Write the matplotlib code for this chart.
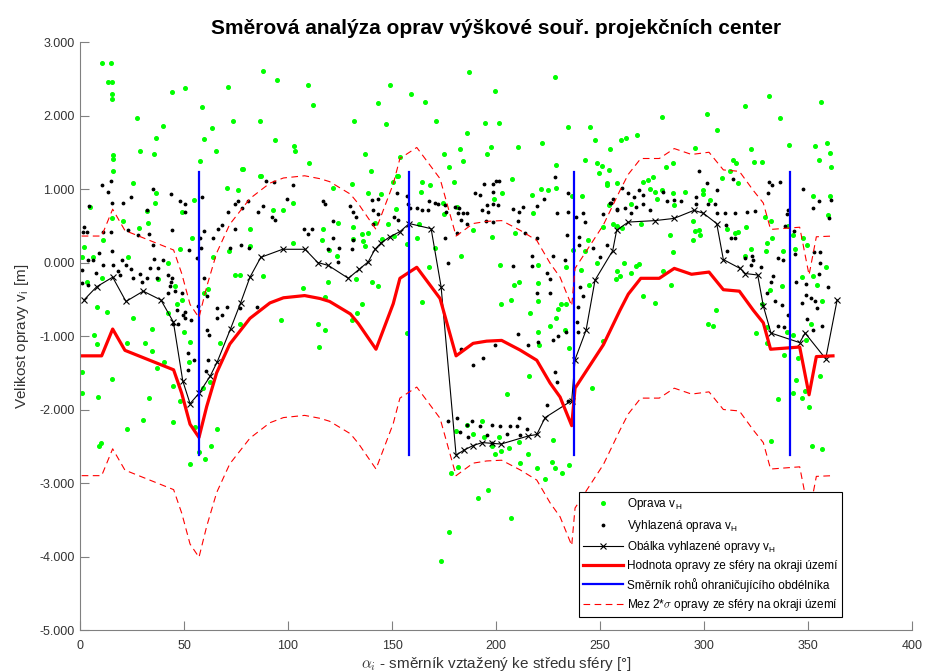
import numpy as np
import matplotlib
matplotlib.use('Agg')
import matplotlib.pyplot as plt

plt.rcParams['font.family'] = ['Liberation Sans', 'DejaVu Sans']
plt.rcParams['mathtext.fontset'] = 'cm'

# Oprava v_H (alpha [deg], v [m])
oprava = [
    (10.7, 2.71), (15.1, 2.72), (13.5, 2.46), (15.5, 2.46), (15.4, 2.29), (15.4, 2.22), (27.2, 1.97), (44.1, 2.32),
    (50.5, 2.37), (39.7, 1.86), (36.5, 1.70), (28.8, 1.52), (35.7, 1.48), (15.7, 1.46), (15.9, 1.41), (15.7, 1.24),
    (58.8, 2.11), (63.5, 1.83), (59.5, 1.68), (65.2, 1.52), (57.7, 1.38), (71.2, 2.39), (73.6, 1.92), (88.1, 2.60),
    (94.7, 2.48), (86.4, 1.93), (93.9, 1.66), (102.9, 1.58), (103.2, 1.52), (109.5, 2.41), (112.0, 2.14), (109.9, 1.36),
    (78.4, 1.27), (86.7, 1.18), (131.6, 1.92), (137.0, 1.48), (140.1, 1.24), (149.2, 2.42), (143.3, 2.17), (147.1, 1.88),
    (159.1, 2.29), (166.0, 2.18), (171.3, 1.93), (153.8, 1.43), (152.9, 1.18), (175.0, 1.48), (177.6, 1.30), (182.7, 1.54),
    (184.1, 1.38), (186.1, 1.76), (186.9, 2.59), (194.6, 1.90), (195.8, 1.47), (197.8, 1.57), (199.7, 2.34), (201.3, 1.90),
    (228.4, 2.52), (210.4, 1.57), (222.3, 1.62), (234.6, 1.84), (245.0, 1.85), (247.8, 1.67), (242.6, 1.40), (248.6, 1.36),
    (251.0, 1.31), (249.7, 1.22), (254.3, 1.26), (254.6, 1.54), (260.1, 1.67), (262.3, 1.69), (267.8, 1.73), (280.0, 1.98),
    (275.3, 1.17), (281.7, 1.30), (284.9, 1.35), (295.7, 1.56), (301.6, 2.02), (306.1, 1.80), (314.1, 1.40), (315.2, 1.35),
    (312.5, 1.24), (308.5, 1.15), (319.6, 2.13), (331.3, 2.27), (336.7, 1.96), (322.4, 1.55), (324.0, 1.37), (328.0, 1.37),
    (340.9, 1.60), (353.4, 1.58), (359.1, 1.63), (356.4, 2.18), (360.7, 1.49), (355.4, 1.39), (360.9, 1.30), (228.8, 1.33),
    (207.5, 1.14),
    (22.4, -2.27), (30.1, -2.14), (44.9, -2.17), (9.9, -2.46), (9.3, -2.49), (55.3, -2.24), (65.7, -2.26), (62.8, -2.50),
    (57.4, -2.58), (59.9, -2.68), (52.9, -2.74), (180.6, -2.29), (186.2, -2.21), (189.1, -2.33), (193.3, -2.16),
    (194.2, -2.38), (201.3, -2.37), (197.9, -2.50), (202.4, -2.57), (199.5, -2.61), (206.1, -2.52), (211.2, -2.44),
    (215.5, -2.60), (211.5, -2.73), (219.6, -2.79), (223.4, -2.94), (226.8, -2.71), (228.4, -2.80), (231.6, -2.87),
    (235.1, -2.75), (181.6, -2.78), (178.5, -2.87), (196.3, -3.10), (191.2, -3.21), (207.2, -3.47), (177.2, -3.67),
    (173.6, -4.06),
    (4.8, 0.76), (15.2, 0.60), (25.6, 1.08), (36.5, 0.94), (36.1, 0.81), (32.1, 0.70), (32.5, 0.54), (28.4, 0.47),
    (20.5, 0.56), (11.2, 0.30), (2.1, 0.21), (0.8, 0.08), (22.9, 0.07), (6.1, 0.08), (3.2, -0.27), (10.4, -0.21),
    (8.0, -0.61), (13.1, -0.68), (25.3, -0.76), (37.7, -0.22), (42.5, -0.01), (45.7, -0.32), (42.3, -0.69), (34.5, -0.90),
    (50.0, -0.94), (48.9, -0.51), (46.7, -0.56), (48.1, 0.19), (53.7, 0.34), (55.0, 0.85), (49.2, 0.69), (1.1, -1.49),
    (0.8, -1.78), (6.9, -0.99), (8.0, -1.11), (15.2, -1.59), (22.4, -1.10), (31.3, -1.09), (34.5, -1.20), (36.9, -1.44),
    (40.4, -1.36), (44.5, -1.68), (33.3, -1.85), (8.5, -1.83), (48.1, -1.89), (52.9, -1.08), (52.4, -1.35), (59.3, -1.71),
    (62.5, -1.62), (59.8, -0.42), (61.4, -0.36), (64.1, 0.08), (70.5, 1.01), (76.0, 0.98), (78.0, 1.27), (71.6, 0.15),
    (81.7, 0.22), (81.7, 0.46), (74.5, -0.17), (76.9, -0.17), (88.1, -0.19), (76.9, -0.83), (67.3, -1.10), (87.0, 1.18),
    (92.9, 0.71), (97.4, 0.71), (102.6, 0.26), (102.6, 0.81), (96.6, -0.78), (107.0, -0.35), (114.6, -0.83), (115.0, -1.15),
    (121.8, 1.02), (130.6, 1.07), (138.3, 0.94), (144.7, 0.93), (152.6, 1.18), (150.3, 1.09), (168.3, 1.05), (163.8, 0.96),
    (164.2, 1.09), (180.0, 1.09), (181.1, 0.76), (174.7, 0.81), (175.1, 0.66), (163.1, 0.52), (152.1, 0.73), (148.2, 0.52),
    (141.9, 0.54), (138.3, 0.40), (131.4, 0.48), (131.4, 0.32), (135.4, 0.39), (124.2, 0.54), (117.0, 0.45), (116.2, 0.30),
    (136.2, 0.29), (137.0, 0.22), (145.0, 0.32), (151.0, 0.36), (161.9, 0.34), (157.4, 0.25), (119.9, 0.17), (123.7, 0.09),
    (119.4, -0.27), (132.6, -0.23), (140.6, -0.27), (143.3, -0.32), (135.4, -0.56), (117.8, -0.92), (130.6, -0.78),
    (133.0, -0.69), (117.8, -0.47), (168.0, -0.06), (170.7, 0.20), (164.6, -0.54), (157.0, -0.96), (183.0, 0.09),
    (189.1, 0.44), (197.9, 0.35), (202.7, 0.95), (199.2, 0.86), (201.9, -0.03), (208.8, -0.31), (211.2, -0.27),
    (207.0, -0.51), (202.2, -0.56), (216.2, -0.69), (217.3, 0.92), (221.8, 1.00), (225.0, 0.98), (229.0, 1.02),
    (209.1, 0.40), (217.9, 0.68), (220.3, -0.04), (220.3, -0.28), (220.3, -0.52), (216.0, -1.54), (205.1, -1.79),
    (220.3, -0.94), (220.8, -1.12), (225.9, -0.87), (228.8, -0.76), (230.0, -0.63), (231.1, -0.56), (233.7, -0.56),
    (233.2, -0.92), (235.3, -1.16), (233.5, -0.06), (237.1, 0.17), (236.7, 0.90), (241.2, 0.90), (253.2, 1.08),
    (258.0, 1.08), (254.5, 0.78), (256.4, 0.53), (251.6, 0.48), (244.4, 0.31), (242.8, 0.15), (240.9, -0.10),
    (244.9, -0.31), (248.4, 0.00), (258.0, -0.12), (251.6, -1.07), (246.0, -1.71), (227.6, -2.41),
    (253.5, 1.05), (270.8, 1.10), (273.2, 1.12), (276.4, 0.96), (274.0, 1.00), (279.6, 0.98), (285.3, 0.94), (290.9, 0.96),
    (299.7, 0.99), (299.7, 0.93), (302.9, 0.85), (277.6, 0.86), (285.6, 0.78), (264.9, 0.80), (258.0, 0.49), (260.4, 0.47),
    (269.7, 0.52), (283.7, 0.37), (295.7, 0.43), (297.8, 0.44), (298.1, 0.37), (294.5, 0.31), (294.9, 0.57), (285.3, 0.14),
    (310.9, 0.46), (314.9, 0.40), (316.5, 0.42), (320.2, 0.48), (316.1, 1.08), (329.3, 0.62), (332.2, 0.57), (332.5, 0.33),
    (330.1, 0.27), (322.8, 0.18), (319.6, 0.09), (329.8, 0.15), (337.8, 0.16), (343.8, 0.18), (343.0, 0.37), (340.2, 0.50),
    (347.4, 0.33), (349.4, 0.24), (352.2, 0.91), (360.6, 0.91), (359.8, 0.65), (358.7, -0.06), (347.0, -0.20),
    (352.2, -0.19), (354.5, -0.31), (356.6, -0.52), (337.3, -0.32), (331.7, -0.38), (327.8, -0.57), (330.5, -0.88),
    (324.9, -0.96), (339.7, -0.94), (343.0, -0.98), (338.5, -1.26), (345.3, -1.30), (351.6, -0.83), (349.2, -1.06),
    (330.1, -1.09), (344.2, -1.60), (343.0, -1.78), (347.0, -1.85), (348.6, -1.75), (350.5, -1.97), (355.8, -1.55),
    (335.4, -1.86), (305.7, -0.65), (302.1, -0.83), (304.2, -0.87), (284.2, -0.31), (270.5, -0.45), (276.4, -0.55),
    (267.3, -0.05), (268.9, -0.02), (264.7, -0.14), (259.6, -0.18), (257.7, -0.22), (261.7, 0.00), (280.4, -0.12),
    (332.2, -2.43), (351.7, -2.50), (356.5, -2.54),
]

# Vyhlazena oprava v_H
vyhlazena = [
    (4.5, 0.77), (10.4, 1.06), (14.9, 1.11), (13.3, 0.96), (15.2, 0.81), (20.5, 0.81), (24.5, 0.89), (32.1, 0.72),
    (35.3, 1.00), (43.6, 0.93), (48.1, 0.84), (50.5, 0.79), (50.5, 0.69), (1.9, 0.48), (1.3, 0.42), (3.2, 0.41),
    (11.2, 0.41), (14.7, 0.42), (23.2, 0.44), (28.0, 0.37), (33.3, 0.39), (35.3, 0.24), (44.1, 0.44), (52.6, 0.17),
    (4.0, 0.04), (0.8, -0.10), (0.8, -0.28), (4.0, -0.30), (6.3, 0.04), (9.3, 0.13), (7.7, -0.14), (11.2, -0.03),
    (15.2, 0.15), (15.7, -0.04), (18.4, -0.11), (20.0, 0.04), (22.1, -0.03), (24.5, -0.09), (25.3, -0.21), (28.8, -0.16),
    (29.6, -0.26), (19.2, -0.17), (33.7, -0.08), (32.1, -0.21), (36.9, -0.21), (37.7, -0.08), (40.1, 0.04), (35.6, 0.05),
    (42.5, -0.17), (44.1, -0.21), (43.8, -0.26), (43.3, -0.32), (45.7, -0.39), (48.9, -0.41), (42.5, -0.41), (46.5, -0.64),
    (50.5, -0.68), (49.4, -0.72), (50.5, -0.76), (53.2, -0.78), (47.3, -0.84), (44.9, -0.83), (56.9, -0.59), (52.1, -1.23),
    (55.0, -1.33), (52.1, -1.46), (60.9, -0.92), (62.2, -0.98), (61.7, -1.33), (60.6, -1.48), (58.5, 0.89), (59.8, 0.43),
    (57.7, 0.33), (58.0, 0.20), (59.6, -0.21), (61.2, -0.46), (65.7, -0.62), (65.7, -0.75), (68.1, -0.72), (64.1, 0.34),
    (66.3, 0.46), (68.3, 0.51), (71.0, 0.69), (74.5, 0.80), (76.0, 0.83), (78.0, 0.74), (80.6, 0.84), (81.4, 0.20),
    (85.7, 0.69), (88.1, 0.77), (89.4, 1.11), (93.4, 1.09), (92.1, 0.62), (93.8, 0.58), (99.4, 0.87), (102.6, 1.06),
    (107.8, 0.45), (111.7, 0.45), (109.8, 0.39), (72.1, 0.20), (77.2, 0.24), (74.5, 0.46), (70.8, -0.61), (76.9, -0.62),
    (84.9, -0.60), (56.1, 0.06),
    (117.0, 0.83), (117.8, 0.80), (121.5, 0.57), (121.5, 0.33), (119.4, 0.19), (124.7, 0.20), (124.2, 0.01), (129.8, 0.77),
    (131.1, 0.69), (132.6, 0.62), (131.4, 0.31), (130.6, 0.18), (140.2, 0.85), (143.3, 0.86), (140.8, 0.72), (143.3, 0.66),
    (140.8, 0.53), (152.2, 0.94), (151.0, 0.62), (153.0, 0.58), (157.4, 0.90), (157.9, 0.80), (158.7, 0.74), (161.9, 0.74),
    (164.3, 0.71), (167.5, 0.72), (168.0, 0.83), (170.8, 0.81), (172.3, 0.80), (175.5, 0.78), (175.9, 0.69), (180.2, 0.76),
    (182.3, 0.74), (181.8, 0.67), (183.9, 0.67), (185.9, 0.67), (183.4, 0.58), (185.9, 0.53), (181.1, 0.40), (177.1, 0.00),
    (175.5, 0.34), (189.9, 0.94), (192.3, 0.92), (194.4, 1.07), (198.4, 1.07), (199.9, 1.11), (201.6, 1.11), (198.4, 0.96),
    (198.7, 0.80), (195.5, 0.78), (196.3, 0.69), (193.1, 0.71), (195.0, 0.56), (198.7, 0.55), (201.1, 0.78), (208.4, 0.73),
    (211.2, 0.69), (213.1, 0.75), (219.6, 0.77), (223.1, 0.86), (228.4, 1.16), (229.2, 0.68), (234.7, 0.94), (234.7, 0.69),
    (238.4, 0.62), (242.0, 0.67), (242.8, 0.55), (251.6, 0.66), (255.3, 0.81), (258.0, 0.73), (210.7, 0.56), (213.9, 0.40),
    (219.6, 0.33), (234.0, 0.38), (240.0, 0.35), (240.0, 0.24), (246.7, 0.20), (253.2, 0.24), (249.9, 0.08), (217.5, 0.09),
    (227.5, 0.09), (233.1, 0.04), (217.1, -0.05), (224.3, -0.14), (225.9, -0.22), (225.9, -0.42), (219.6, -0.42),
    (240.4, -0.33), (242.0, -0.46), (239.6, -0.60), (238.8, -0.81), (239.6, -0.94), (233.7, -0.94), (229.9, -1.00),
    (227.5, -1.06), (220.3, -1.08), (215.5, -1.12), (210.7, -0.97), (208.4, -0.05), (193.9, -1.30), (188.8, -1.39),
    (199.5, -1.12), (183.4, -1.18), (228.4, -1.49), (229.2, -1.63), (224.3, -1.94), (234.7, -1.89), (211.2, -2.11),
    (214.7, -2.26), (210.2, -2.22), (206.7, -2.23), (201.9, -2.23), (197.9, -2.21), (192.3, -2.22), (188.3, -2.16),
    (185.9, -2.21), (181.1, -2.12), (177.1, -2.16), (195.5, -2.35), (205.1, -2.33), (211.5, -2.35), (182.7, -2.30),
    (186.7, -2.37), (198.2, -2.45),
    (297.8, 1.24), (301.6, 1.08), (306.1, 0.99), (260.4, 1.02), (263.6, 0.94), (268.7, 0.98), (270.8, 0.92), (266.3, 0.89),
    (256.4, 0.87), (254.8, 0.81), (258.0, 0.71), (262.0, 0.74), (264.7, 0.67), (267.3, 0.76), (270.5, 0.80), (274.0, 0.72),
    (280.4, 0.96), (282.0, 0.83), (285.6, 0.85), (288.8, 0.83), (296.3, 0.89), (296.0, 0.79), (302.1, 0.80), (305.3, 0.80),
    (306.1, 0.68), (310.1, 0.68), (314.9, 0.68), (320.5, 0.69), (324.5, 0.70), (331.4, 1.10), (332.5, 1.05), (336.5, 1.09),
    (330.6, 0.94), (340.2, 0.72), (339.7, 0.66), (347.4, 1.00), (352.2, 0.74), (355.1, 0.84), (361.1, 0.85), (360.3, 0.60),
    (313.2, 0.33), (314.9, 0.33), (310.6, 0.51), (310.9, 0.15), (323.0, 0.09), (323.7, 0.04), (322.8, -0.03), (327.6, -0.06),
    (333.3, -0.19), (335.4, 0.06), (337.8, 0.03), (338.9, 0.50), (343.3, 0.43), (343.8, 0.12), (344.2, -0.27),
    (349.2, -0.29), (349.2, -0.44), (351.2, -0.48), (353.2, -0.53), (352.9, 0.14), (355.6, 0.14), (355.6, -0.01),
    (355.3, -0.15), (359.8, -0.33), (347.0, -0.55), (349.7, -0.77), (352.2, -0.92), (356.6, -0.87), (354.2, -0.62),
    (340.6, -0.71), (335.7, -0.87), (338.5, -0.88), (330.1, -0.42), (334.1, -0.53), (337.3, -0.58), (319.6, 0.06),
    (332.0, -0.27), (314.0, 1.13),
]

# Obalka vyhlazene opravy v_H
obalka_alpha = [1.9, 8, 15.7, 22.1, 30.4, 38.9, 44.9, 49.4, 52.9, 57.2, 62.5, 66, 72.4, 77.2, 81.7,
                86.9, 97.4, 108.2, 114.3, 119.4, 129, 134.3, 138.6, 141.8, 144.9, 149, 153.8, 158.3, 168.8, 173.6,
                180.8, 184.8, 189, 193.4, 197.9, 202.4, 215.5, 219.6, 223.6, 236.4, 238, 243.3, 247.6, 256.1, 258,
                263.6, 276.4, 285.6, 295.2, 299.7, 306.1, 309.3, 317.3, 319.9, 325.8, 328.5, 332.2, 346, 348.6,
                358.5, 364]
obalka_v = [-0.51, -0.33, -0.20, -0.53, -0.39, -0.51, -0.81, -1.61, -1.92, -1.78, -1.55, -1.35, -0.90, -0.55, -0.20,
            0.07, 0.18, 0.18, 0.0, -0.04, -0.215, -0.09, 0.01, 0.18, 0.27, 0.35, 0.42, 0.53, 0.46, -0.33,
            -2.62, -2.55, -2.49, -2.45, -2.46, -2.47, -2.36, -2.34, -2.11, -1.88, -1.32, -0.92, -0.24, 0.16, 0.44,
            0.55, 0.57, 0.60, 0.71, 0.67, 0.53, 0.04, -0.08, -0.15, -0.17, -0.59, -0.96, -1.09, -0.96,
            -1.31, -0.51]

# Hodnota opravy ze sfery na okraji uzemi + meze 2*sigma
sfera_alpha = [0.8, 10.4, 15.7, 21.6, 45, 48.9, 52.9, 57.2, 60.9, 65.7, 72, 81.7, 91.3, 97.8, 108, 115.4, 120,
               130, 133.8, 142.3, 150.6, 153.8, 161.9, 173.1, 180.8, 189, 195.5, 202.7, 211.5, 219.6, 226, 230.8,
               236.4, 238, 251.6, 259.6, 263.6, 269.6, 278.5, 285.7, 294, 302.4, 309.3, 317, 323.7, 328.5, 332,
               346, 350.5, 354, 362]
sfera_v = [-1.27, -1.27, -0.905, -1.195, -1.46, -1.78, -2.2, -2.38, -1.96, -1.5, -1.11, -0.76, -0.55, -0.48, -0.45,
           -0.49, -0.53, -0.70, -0.83, -1.18, -0.56, -0.215, -0.065, -0.49, -1.27, -1.10, -1.07, -1.06, -1.19, -1.33,
           -1.64, -1.83, -2.22, -1.71, -1.12, -0.65, -0.43, -0.215, -0.215, -0.08, -0.16, -0.13, -0.37, -0.39, -0.65,
           -0.82, -1.18, -1.15, -1.80, -1.28, -1.27]
mez_horni = [0.36, 0.36, 0.725, 0.435, 0.17, -0.15, -0.57, -0.75, -0.33, 0.13, 0.52, 0.87, 1.08, 1.15, 1.18,
             1.14, 1.10, 0.93, 0.80, 0.45, 1.07, 1.415, 1.565, 1.14, 0.36, 0.53, 0.56, 0.57, 0.44, 0.30,
             -0.01, -0.20, -0.59, -0.08, 0.51, 0.98, 1.20, 1.415, 1.415, 1.55, 1.47, 1.50, 1.26, 1.24, 0.98,
             0.81, 0.45, 0.48, -0.17, 0.35, 0.36]
mez_dolni = [-2.90, -2.90, -2.535, -2.825, -3.09, -3.41, -3.83, -4.01, -3.59, -3.13, -2.74, -2.39, -2.18, -2.11, -2.08,
             -2.12, -2.16, -2.33, -2.46, -2.81, -2.19, -1.845, -1.695, -2.12, -2.90, -2.73, -2.70, -2.69, -2.82, -2.96,
             -3.27, -3.46, -3.85, -3.34, -2.75, -2.28, -2.06, -1.845, -1.845, -1.71, -1.79, -1.76, -2.00, -2.02, -2.28,
             -2.45, -2.81, -2.78, -3.43, -2.91, -2.90]

# Smernik rohu ohranicujiciho obdelniku
smernik_rohu = [57.2, 158.0, 237.6, 341.5]
smernik_od, smernik_do = -2.62, 1.23

opr = np.array(oprava)
vyh = np.array(vyhlazena)

fig = plt.figure(figsize=(9.26, 6.71), dpi=100)
ax = fig.add_axes([0.0864, 0.0611, 0.8985, 0.8763])

ax.plot(opr[:, 0], opr[:, 1], '.', color='#00ff00', ms=5.2, ls='none', label='Oprava v$_\\mathregular{H}$')
ax.plot(vyh[:, 0], vyh[:, 1], '.', color='black', ms=3.5, ls='none', label='Vyhlazená oprava v$_\\mathregular{H}$')
ax.plot(obalka_alpha, obalka_v, '-x', color='black', lw=0.8, ms=5, mew=0.8,
        label='Obálka vyhlazené opravy v$_\\mathregular{H}$')
ax.plot(sfera_alpha, sfera_v, '-', color='red', lw=2.3, label='Hodnota opravy ze sféry na okraji území')
for i, a in enumerate(smernik_rohu):
    ax.plot([a, a], [smernik_od, smernik_do], '-', color='blue', lw=1.6,
            label='Směrník rohů ohraničujícího obdélníka' if i == 0 else None)
ax.plot(sfera_alpha, mez_horni, '--', color='red', lw=0.8, dashes=(6, 4),
        label='Mez 2*$\\sigma$ opravy ze sféry na okraji území')
ax.plot(sfera_alpha, mez_dolni, '--', color='red', lw=0.8, dashes=(6, 4))

ax.set_xlim(0, 400)
ax.set_ylim(-5, 3)
ax.set_xticks(np.arange(0, 401, 50))
ax.set_yticks(np.arange(-5, 3.01, 1))
ax.set_yticklabels(['%.3f' % v for v in np.arange(-5, 3.01, 1)])
ax.tick_params(direction='in', length=6.5, width=0.8, colors='#808080', labelcolor='#333333', labelsize=9, pad=4)
ax.tick_params(axis='x', pad=7)
for s in ['top', 'right']:
    ax.spines[s].set_visible(False)
for s in ['left', 'bottom']:
    ax.spines[s].set_color('#808080')

ax.set_title('Směrová analýza oprav výškové souř. projekčních center', fontsize=15, fontweight='bold', pad=6)
ax.set_xlabel('$\\alpha_i$ - směrník vztažený ke středu sféry [°]', fontsize=11, color='#333333', labelpad=2)
ax.set_ylabel('Velikost opravy v$_\\mathregular{i}$ [m]', fontsize=11, color='#333333', labelpad=6)

leg = ax.legend(loc='lower right', bbox_to_anchor=(0.916, 0.022), fontsize=8.5, frameon=True, fancybox=False,
                edgecolor='black', handlelength=3.4, handletextpad=0.3, labelspacing=0.45, borderpad=0.35,
                borderaxespad=0, framealpha=1)
leg.get_frame().set_linewidth(0.8)

fig.savefig('out.png', dpi=100)
